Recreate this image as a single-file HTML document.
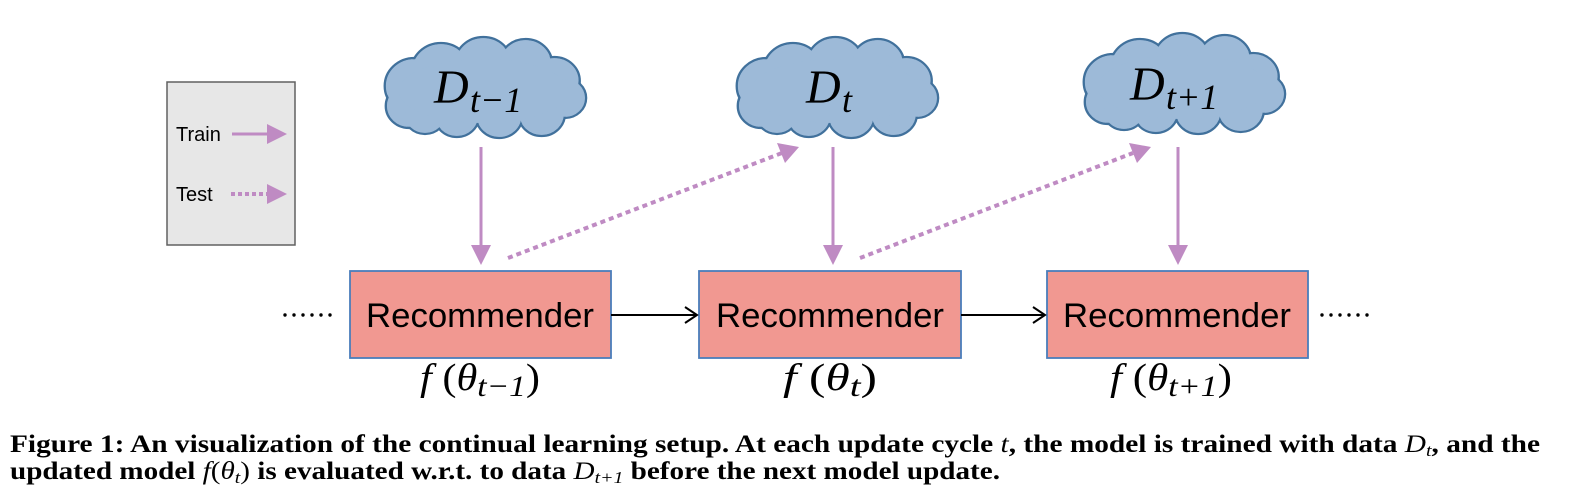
<!DOCTYPE html>
<html><head><meta charset="utf-8"><style>
html,body{margin:0;padding:0;background:#fff;}
svg{display:block}
</style></head><body>
<svg width="1579" height="503" viewBox="0 0 1579 503" xmlns="http://www.w3.org/2000/svg">
<defs>
<g id="cloud">
<g fill="#9dbad8" stroke="#41719c" stroke-width="2.2">
<circle cx="40" cy="50" r="28"/><circle cx="35" cy="70" r="22"/><circle cx="65" cy="35" r="28"/>
<circle cx="105" cy="28" r="27"/><circle cx="145" cy="28" r="25"/><circle cx="172" cy="45" r="24"/>
<circle cx="182" cy="62" r="20"/><circle cx="160" cy="78" r="22"/><circle cx="120" cy="80" r="22"/>
<circle cx="80" cy="80" r="21"/><circle cx="50" cy="78" r="20"/></g>
<g fill="#9dbad8"><circle cx="40" cy="50" r="26.8"/><circle cx="35" cy="70" r="20.8"/><circle cx="65" cy="35" r="26.8"/>
<circle cx="105" cy="28" r="25.8"/><circle cx="145" cy="28" r="23.8"/><circle cx="172" cy="45" r="22.8"/>
<circle cx="182" cy="62" r="18.8"/><circle cx="160" cy="78" r="20.8"/><circle cx="120" cy="80" r="20.8"/>
<circle cx="80" cy="80" r="19.8"/><circle cx="50" cy="78" r="18.8"/>
<ellipse cx="105" cy="55" rx="80" ry="32"/></g>
</g>
</defs>

<!-- legend -->
<rect x="167" y="82" width="128" height="163" fill="#e7e7e7" stroke="#606060" stroke-width="1.5"/>
<text x="176" y="141" font-family="Liberation Sans, sans-serif" font-size="20" fill="#000">Train</text>
<line x1="232" y1="134" x2="268" y2="134" stroke="#bf8bc3" stroke-width="3"/>
<polygon points="267,124 287,134 267,144" fill="#bf8bc3"/>
<text x="176" y="201" font-family="Liberation Sans, sans-serif" font-size="20" fill="#000">Test</text>
<line x1="231" y1="194" x2="268" y2="194" stroke="#bf8bc3" stroke-width="4" stroke-dasharray="4,3"/>
<polygon points="267,184 287,194 267,204" fill="#bf8bc3"/>

<!-- clouds -->
<g transform="translate(372,36) scale(1.06,1.0)"><use href="#cloud"/></g>
<g transform="translate(724,36) scale(1.06,1.0)"><use href="#cloud"/></g>
<g transform="translate(1071,32) scale(1.06,1.0)"><use href="#cloud"/></g>
<g font-family="Liberation Serif, serif" font-style="italic" fill="#000">
<text x="434" y="103" font-size="48">D</text><text x="470" y="112" font-size="36">t−1</text>
<text x="806" y="103" font-size="48">D</text><text x="842" y="112" font-size="36">t</text>
<text x="1130" y="100" font-size="48">D</text><text x="1166" y="109" font-size="36">t+1</text>
</g>

<!-- train arrows -->
<g stroke="#bf8bc3" stroke-width="3">
<line x1="481" y1="147" x2="481" y2="248"/>
<line x1="833" y1="147" x2="833" y2="248"/>
<line x1="1178" y1="147" x2="1178" y2="248"/>
</g>
<g fill="#bf8bc3">
<polygon points="471,245 491,245 481,265"/>
<polygon points="823,245 843,245 833,265"/>
<polygon points="1168,245 1188,245 1178,265"/>
</g>
<!-- test arrows -->
<g stroke="#bf8bc3" stroke-width="4" stroke-dasharray="5,4">
<line x1="508" y1="258" x2="782" y2="153"/>
<line x1="860" y1="258" x2="1133" y2="153"/>
</g>
<polygon points="799,147 777,143 785,163" fill="#bf8bc3"/>
<polygon points="1151,147 1129,143 1137,163" fill="#bf8bc3"/>

<!-- boxes -->
<g fill="#f19891" stroke="#4a7ebb" stroke-width="1.8">
<rect x="350" y="271" width="261" height="87"/>
<rect x="699" y="271" width="262" height="87"/>
<rect x="1047" y="271" width="261" height="87"/>
</g>
<g font-family="Liberation Sans, sans-serif" font-size="34" fill="#000" text-anchor="middle">
<text x="480" y="327" textLength="228" lengthAdjust="spacingAndGlyphs">Recommender</text>
<text x="830" y="327" textLength="228" lengthAdjust="spacingAndGlyphs">Recommender</text>
<text x="1177" y="327" textLength="228" lengthAdjust="spacingAndGlyphs">Recommender</text>
</g>
<g stroke="#000" stroke-width="2" fill="none">
<line x1="611" y1="315" x2="697" y2="315"/><polyline points="685,307 697,315 685,323"/>
<line x1="961" y1="315" x2="1045" y2="315"/><polyline points="1033,307 1045,315 1033,323"/>
</g>
<g fill="#000">
<circle cx="285" cy="315" r="1.7"/><circle cx="294" cy="315" r="1.7"/><circle cx="303" cy="315" r="1.7"/><circle cx="312" cy="315" r="1.7"/><circle cx="321" cy="315" r="1.7"/><circle cx="330" cy="315" r="1.7"/>
<circle cx="1322" cy="315" r="1.7"/><circle cx="1331" cy="315" r="1.7"/><circle cx="1340" cy="315" r="1.7"/><circle cx="1349" cy="315" r="1.7"/><circle cx="1358" cy="315" r="1.7"/><circle cx="1367" cy="315" r="1.7"/>
</g>
<g font-family="Liberation Serif, serif" font-size="38" fill="#000" font-style="italic">
<text x="420" y="390" textLength="120" lengthAdjust="spacingAndGlyphs">f<tspan font-style="normal"> (</tspan>θ<tspan font-size="30" dy="6">t−1</tspan><tspan font-style="normal" dy="-6">)</tspan></text>
<text x="783" y="390" textLength="94" lengthAdjust="spacingAndGlyphs">f<tspan font-style="normal"> (</tspan>θ<tspan font-size="30" dy="6">t</tspan><tspan font-style="normal" dy="-6">)</tspan></text>
<text x="1110" y="390" textLength="122" lengthAdjust="spacingAndGlyphs">f<tspan font-style="normal"> (</tspan>θ<tspan font-size="30" dy="6">t+1</tspan><tspan font-style="normal" dy="-6">)</tspan></text>
</g>

<!-- caption -->
<g font-family="Liberation Serif, serif" font-size="25" font-weight="bold" fill="#000">
<text x="10" y="452" textLength="1530" lengthAdjust="spacingAndGlyphs">Figure 1: An visualization of the continual learning setup. At each update cycle <tspan font-style="italic" font-weight="normal">t</tspan>, the model is trained with data <tspan font-style="italic" font-weight="normal">D<tspan font-size="17" dy="4">t</tspan></tspan><tspan dy="-4">, and the</tspan></text>
<text x="10" y="479" textLength="990" lengthAdjust="spacingAndGlyphs">updated model <tspan font-style="italic" font-weight="normal">f</tspan><tspan font-weight="normal">(</tspan><tspan font-style="italic" font-weight="normal">θ<tspan font-size="17" dy="4">t</tspan></tspan><tspan font-weight="normal" dy="-4">)</tspan> is evaluated w.r.t. to data <tspan font-style="italic" font-weight="normal">D<tspan font-size="17" dy="4">t+1</tspan></tspan><tspan dy="-4"> before the next model update.</tspan></text>
</g>
</svg>
</body></html>
